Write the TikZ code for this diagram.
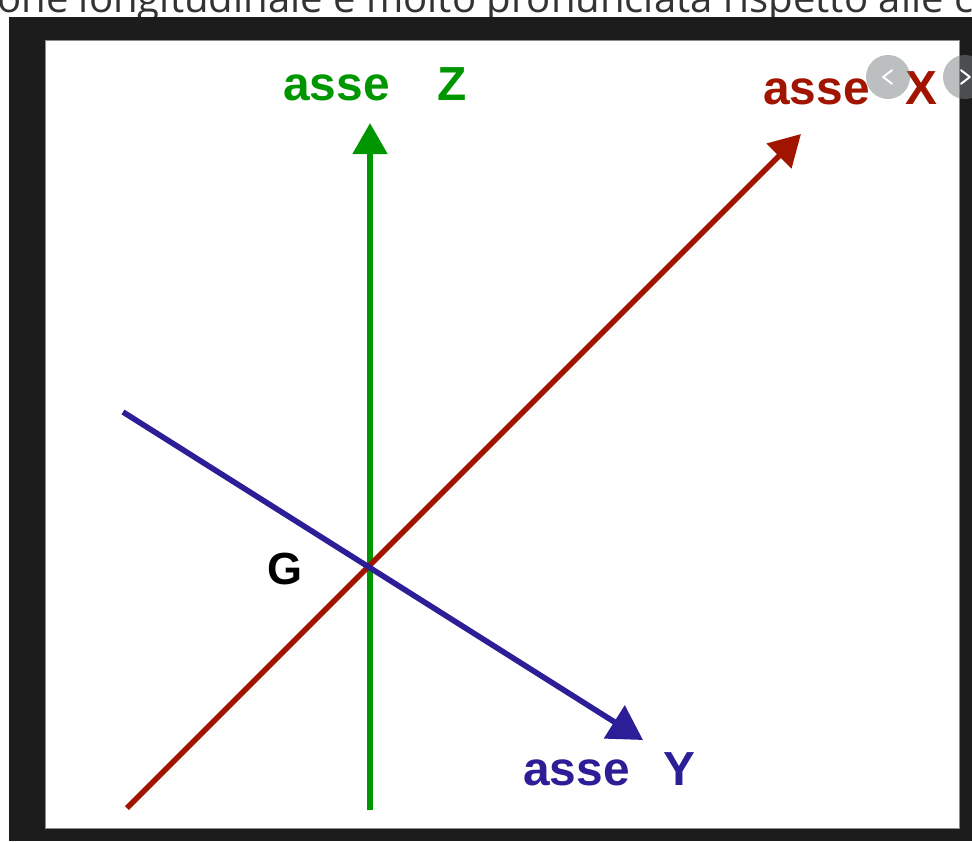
\documentclass[tikz,border=0pt]{standalone}
\usepackage{fontspec}
\setmainfont{Liberation Sans}
\newfontfamily\pagefont{Open Sans}
\usetikzlibrary{arrows.meta}

\definecolor{zgreen}{RGB}{0,150,0}
\definecolor{xred}{RGB}{160,20,0}
\definecolor{yblue}{RGB}{44,30,150}
\definecolor{framegray}{RGB}{28,28,28}
\definecolor{btngray}{RGB}{120,128,128}

\begin{document}
\begin{tikzpicture}[x=0.025cm, y=-0.025cm,
  axis/.style={line width=0.14cm, -{Triangle[length=0.78cm,width=0.85cm]}},
  axislabel/.style={anchor=base west, inner sep=0pt, font=\fontsize{34}{40}\selectfont\bfseries},
  navbutton/.style={circle, fill=btngray, fill opacity=0.5, minimum size=1.1cm, inner sep=0pt},
  chevron/.style={white, line width=0.05cm, line cap=round, line join=round}]
  \useasboundingbox (0,0) rectangle (972,841);
  \fill[white] (0,0) rectangle (972,841);

  % page text cut by the frame
  \begin{scope}
    \clip (0,0) rectangle (972,17);
    \node[anchor=base west, inner sep=0pt, font=\pagefont\fontsize{28.5}{34}\selectfont, text=black!80]
      (pagetext) at (-3,13) {one longitudinale e molto pronunciata rispetto alle c};
  \end{scope}

  % frame
  \fill[framegray] (9,17) rectangle (972,841);
  \filldraw[fill=white, draw=black!45, line width=0.5pt] (45,40) rectangle (959,828);

  % axes
  \coordinate (zfoot) at (370,810);
  \coordinate (ztip) at (370,123);
  \coordinate (xfoot) at (127,808);
  \coordinate (xtip) at (801,134);
  \coordinate (yfoot) at (123,412);
  \coordinate (ytip) at (643,740);

  \draw[axis, zgreen] (zfoot) -- (ztip);
  \draw[axis, xred] (xfoot) -- (xtip);
  \draw[axis, yblue, -{Triangle[length=0.85cm,width=0.95cm]}] (yfoot) -- (ytip);

  \node[axislabel, zgreen] (zlabel) at (283,101) {asse\hspace{1.2cm}Z};
  \node[axislabel, xred] (xlabel) at (763,105) {asse\hspace{0.9cm}X};
  \node[axislabel, yblue] (ylabel) at (523,785) {asse\hspace{0.85cm}Y};
  \node[font=\fontsize{32}{38}\selectfont\bfseries, inner sep=0pt] (glabel) at (285,569) {G};

  % slider buttons
  \node[navbutton] (prevbtn) at (888,77) {};
  \node[navbutton] (nextbtn) at (965,77) {};
  \draw[chevron] ([xshift=0.1cm,yshift=0.17cm]prevbtn.center) -- ([xshift=-0.12cm]prevbtn.center)
    -- ([xshift=0.1cm,yshift=-0.17cm]prevbtn.center);
  \draw[chevron] ([xshift=-0.1cm,yshift=0.17cm]nextbtn.center) -- ([xshift=0.12cm]nextbtn.center)
    -- ([xshift=-0.1cm,yshift=-0.17cm]nextbtn.center);
\end{tikzpicture}
\end{document}
